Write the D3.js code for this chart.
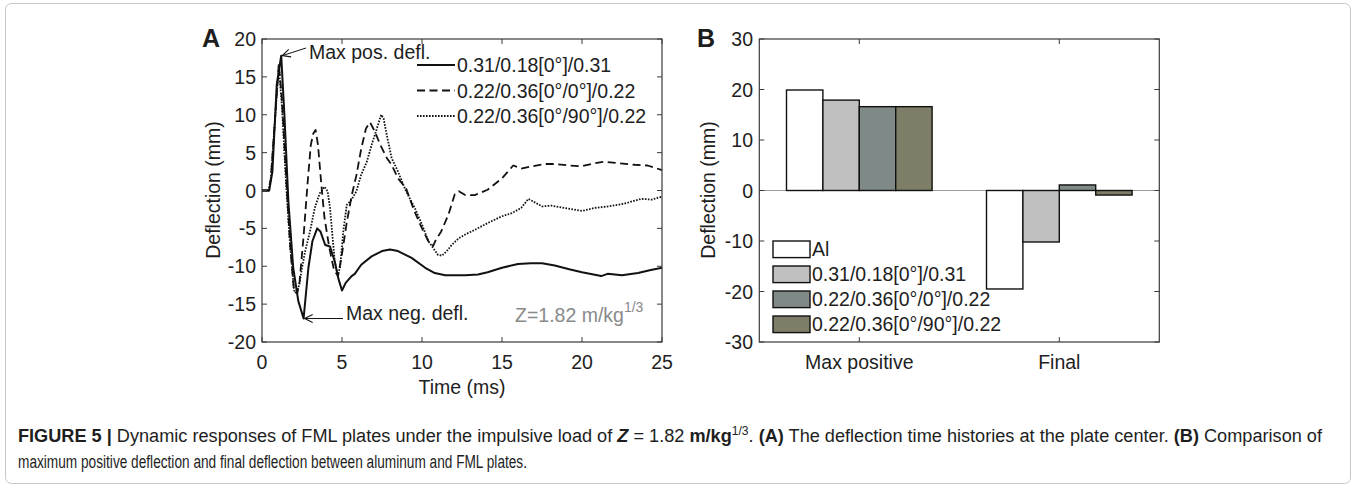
<!DOCTYPE html>
<meta charset="utf-8">
<script src="https://d3js.org/d3.v7.min.js"></script>
<body style="margin:0;background:#fff">
<svg width="1356" height="488"></svg>
<script>
  // ---- panel A: deflection time histories, [time ms, deflection mm]
  var solid = [[0,0],[0.45,0],[0.65,2.5],[0.92,13.9],[1.2,17.8],[1.4,10],[1.65,-1.5],[1.95,-10.2],[2.27,-14.6],[2.6,-16.9],
    [2.9,-10.2],[3.15,-6.7],[3.45,-5.0],[3.65,-5.4],[3.95,-7.2],[4.25,-7.4],[4.55,-9.4],[4.77,-11.6],[5.0,-13.2],[5.23,-12.2],
    [5.6,-11.3],[5.8,-11.0],[6.2,-9.8],[6.85,-8.7],[7.5,-8.0],[8.0,-7.8],[8.5,-8.0],[9.35,-8.9],[10.2,-10.2],[10.8,-10.9],
    [11.45,-11.2],[12.7,-11.2],[13.5,-11.1],[14.1,-10.8],[15.0,-10.2],[16.0,-9.7],[16.8,-9.6],[17.5,-9.6],[18.3,-9.9],
    [19.2,-10.4],[20.0,-10.8],[21.2,-11.3],[21.6,-11.0],[22.5,-11.2],[23.5,-10.9],[24.3,-10.5],[25,-10.2]];
  var dashed = [[0,0],[0.4,0],[0.55,1.5],[0.8,9],[1.05,16.7],[1.25,12],[1.5,2],[1.75,-7],[2.0,-13.3],[2.2,-13.6],[2.35,-12],
    [2.6,-6],[2.85,1],[3.05,6],[3.2,7.5],[3.35,8.0],[3.5,6],[3.7,1],[3.9,-3.5],[4.2,-7.5],[4.5,-10.5],[4.75,-11.3],[4.95,-9],
    [5.1,-7],[5.3,-4.2],[5.6,-0.7],[5.9,2],[6.2,5.5],[6.5,8.2],[6.75,9.0],[7.05,7.8],[7.4,6],[7.8,4.3],[8.1,3.4],[8.5,1.6],
    [9.0,0.3],[9.5,-2.6],[10.0,-5.0],[10.4,-6.7],[10.7,-7.3],[10.85,-6.6],[11.2,-5.4],[11.65,-3.2],[12.05,-0.5],[12.3,-0.1],
    [12.7,-0.6],[13.3,-0.6],[14.1,0.1],[15.0,1.6],[15.7,3.3],[16.2,2.9],[16.9,3.2],[17.7,3.5],[18.3,3.5],[19.2,3.3],[20.0,3.2],
    [20.8,3.6],[21.4,3.8],[22.3,3.6],[23.3,3.4],[24.1,3.3],[25,2.7]];
  var dotted = [[0,0],[0.4,0],[0.55,1.5],[0.8,9],[1.05,16.3],[1.25,11],[1.5,1],[1.75,-7],[2.0,-13.2],[2.2,-13.4],[2.35,-12.2],
    [2.5,-10.2],[2.7,-8],[3.0,-5.4],[3.3,-2.3],[3.6,-0.4],[3.9,0.5],[4.1,-0.1],[4.25,-2.3],[4.4,-5.9],[4.55,-9.4],[4.73,-11.1],
    [4.88,-10.2],[5.08,-5.4],[5.3,-1.9],[5.6,-1.2],[5.9,-0.1],[6.2,2.1],[6.55,3.8],[6.85,6.0],[7.15,8.0],[7.45,10.0],[7.6,9.5],
    [7.8,7.3],[8.1,4.3],[8.5,2.5],[9.0,-0.1],[9.55,-2.3],[10.0,-4.5],[10.4,-6.7],[10.7,-7.6],[11.0,-8.5],[11.25,-8.6],
    [11.55,-8.0],[11.85,-7.2],[12.3,-6.3],[12.7,-5.8],[13.3,-5.2],[14.1,-4.3],[15.0,-3.4],[15.6,-3.0],[16.2,-2.3],[16.65,-1.1],
    [16.95,-1.45],[17.5,-2.1],[18.1,-2.0],[18.9,-2.3],[20.0,-2.7],[20.8,-2.3],[21.65,-2.1],[22.7,-1.7],[23.7,-1.1],[24.35,-1.2],[25,-0.8]];
  var lineNames = ['0.31/0.18[0°]/0.31', '0.22/0.36[0°/0°]/0.22', '0.22/0.36[0°/90°]/0.22'];
  var ticksA_x = [0, 5, 10, 15, 20, 25];
  var ticksA_y = [-20, -15, -10, -5, 0, 5, 10, 15, 20];

  // ---- panel B: bar comparison
  var groups = ['Max positive', 'Final'];
  var barNames = ['Al', '0.31/0.18[0°]/0.31', '0.22/0.36[0°/0°]/0.22', '0.22/0.36[0°/90°]/0.22'];
  var maxPositive = [19.9, 17.9, 16.6, 16.6];
  var finalDefl = [-19.5, -10.2, 1.1, -0.9];
  var ticksB_y = [-30, -20, -10, 0, 10, 20, 30];

  var barColors = ['#ffffff', '#c0c0c0', '#7f8988', '#7e7d67'];
  var axisColor = '#3a3a3a';
  var fs = 19.5;

  var svg = d3.select('svg');

  // outer frame
  svg.append('rect').attr('x', 5.5).attr('y', 3.5).attr('width', 1345).attr('height', 480)
    .attr('rx', 6).attr('fill', 'none').attr('stroke', '#c8c8c8');

  function frame(g, x0, x1, y0, y1){
    g.append('rect').attr('x', x0).attr('y', y1).attr('width', x1 - x0).attr('height', y0 - y1)
      .attr('fill', 'none').attr('stroke', axisColor).attr('stroke-width', 1.2);
  }

  /* ----------- panel A ----------- */
  var xA = d3.scaleLinear().domain([0, 25]).range([262, 662]);
  var yA = d3.scaleLinear().domain([-20, 20]).range([342, 39]);
  var gA = svg.append('g');

  var line = d3.line().x(function(d){ return xA(d[0]); }).y(function(d){ return yA(d[1]); });
  var styles = [null, '8,4.5', '1.6,1.4'];

  [solid, dashed, dotted].forEach(function(s, i){
    gA.append('path').datum(s).attr('d', line).attr('fill', 'none').attr('stroke', '#111')
      .attr('stroke-width', i == 0 ? 2 : 1.8).attr('stroke-dasharray', styles[i]).attr('stroke-linejoin', 'round');
  });

  frame(gA, 262, 662, 342, 39);
  ticksA_x.forEach(function(t){
    gA.append('line').attr('x1', xA(t)).attr('x2', xA(t)).attr('y1', 342).attr('y2', 337).attr('stroke', axisColor);
    gA.append('line').attr('x1', xA(t)).attr('x2', xA(t)).attr('y1', 39).attr('y2', 44).attr('stroke', axisColor);
    gA.append('text').attr('x', xA(t)).attr('y', 369).attr('text-anchor', 'middle').attr('font-size', fs).text(t);
  });
  ticksA_y.forEach(function(t){
    gA.append('line').attr('x1', 262).attr('x2', 267).attr('y1', yA(t)).attr('y2', yA(t)).attr('stroke', axisColor);
    gA.append('line').attr('x1', 662).attr('x2', 657).attr('y1', yA(t)).attr('y2', yA(t)).attr('stroke', axisColor);
    gA.append('text').attr('x', 256).attr('y', yA(t) + 7).attr('text-anchor', 'end').attr('font-size', fs).text(t);
  });
  gA.append('text').attr('x', 462).attr('y', 394).attr('text-anchor', 'middle').attr('font-size', fs).text('Time (ms)');
  gA.append('text').attr('transform', 'translate(219.5,190) rotate(-90)').attr('text-anchor', 'middle')
    .attr('font-size', fs).text('Deflection (mm)');
  gA.append('text').attr('x', 202).attr('y', 47).attr('font-size', 25).attr('font-weight', 'bold').text('A');

  // legend A
  lineNames.forEach(function(n, i){
    var y = 65 + i * 25.5;
    gA.append('line').attr('x1', 417).attr('x2', 455).attr('y1', y).attr('y2', y).attr('stroke', '#111')
      .attr('stroke-width', i == 0 ? 2 : 1.8).attr('stroke-dasharray', styles[i]);
    gA.append('text').attr('x', 457).attr('y', y + 7).attr('font-size', fs).text(n);
  });

  // annotations
  var pk = d3.greatest(solid, function(d){ return d[1]; });
  var tr = d3.least(solid, function(d){ return d[1]; });
  function arrow(x1, y1, x2, y2){
    var a = Math.atan2(y2 - y1, x2 - x1), L = 9, w = 0.45;
    gA.append('line').attr('x1', x1).attr('y1', y1).attr('x2', x2).attr('y2', y2).attr('stroke', '#111').attr('stroke-width', 1);
    gA.append('path').attr('d', 'M' + (x2 - L * Math.cos(a - w)) + ',' + (y2 - L * Math.sin(a - w)) + 'L' + x2 + ',' + y2 +
      'L' + (x2 - L * Math.cos(a + w)) + ',' + (y2 - L * Math.sin(a + w)))
      .attr('fill', 'none').attr('stroke', '#111').attr('stroke-width', 1.1);
  }
  arrow(306, 48, xA(pk[0]) + 1, yA(pk[1]));
  gA.append('text').attr('x', 309).attr('y', 59).attr('font-size', fs).text('Max pos. defl.');
  arrow(343, yA(tr[1]), xA(tr[0]) + 1, yA(tr[1]));
  gA.append('text').attr('x', 346).attr('y', 320).attr('font-size', fs).text('Max neg. defl.');

  var zt = gA.append('text').attr('x', 515).attr('y', 322).attr('font-size', fs).style('fill', '#8a8a8a');
  zt.append('tspan').text('Z=1.82 m/kg');
  zt.append('tspan').attr('dy', -10).attr('font-size', 14).text('1/3');

  /* ----------- panel B ----------- */
  var xB = d3.scaleLinear().domain([0.5, 2.5]).range([759.3, 1159.3]);
  var yB = d3.scaleLinear().domain([-30, 30]).range([342, 39]);
  var gB = svg.append('g');
  var bw = 0.182;

  gB.append('line').attr('x1', 759.3).attr('x2', 1159.3).attr('y1', yB(0)).attr('y2', yB(0))
    .attr('stroke', '#9a9a9a').attr('stroke-width', 1);

  [maxPositive, finalDefl].forEach(function(vals, gi){
    vals.forEach(function(v, i){
      var xc = gi + 1 + (i - 1.5) * bw;
      gB.append('rect').attr('x', xB(xc - bw / 2)).attr('width', xB(xc + bw / 2) - xB(xc - bw / 2))
        .attr('y', yB(Math.max(0, v))).attr('height', Math.abs(yB(v) - yB(0)))
        .attr('fill', barColors[i]).attr('stroke', '#111').attr('stroke-width', 1.4);
    });
  });

  frame(gB, 759.3, 1159.3, 342, 39);
  groups.forEach(function(gname, i){
    var x = xB(i + 1);
    gB.append('line').attr('x1', x).attr('x2', x).attr('y1', 342).attr('y2', 337).attr('stroke', axisColor);
    gB.append('line').attr('x1', x).attr('x2', x).attr('y1', 39).attr('y2', 44).attr('stroke', axisColor);
    gB.append('text').attr('x', x).attr('y', 369).attr('text-anchor', 'middle').attr('font-size', fs).text(gname);
  });
  ticksB_y.forEach(function(t){
    gB.append('line').attr('x1', 759.3).attr('x2', 764.3).attr('y1', yB(t)).attr('y2', yB(t)).attr('stroke', axisColor);
    gB.append('line').attr('x1', 1159.3).attr('x2', 1154.3).attr('y1', yB(t)).attr('y2', yB(t)).attr('stroke', axisColor);
    gB.append('text').attr('x', 753).attr('y', yB(t) + 7).attr('text-anchor', 'end').attr('font-size', fs).text(t);
  });
  gB.append('text').attr('transform', 'translate(715,190) rotate(-90)').attr('text-anchor', 'middle')
    .attr('font-size', fs).text('Deflection (mm)');
  gB.append('text').attr('x', 697).attr('y', 47).attr('font-size', 25).attr('font-weight', 'bold').text('B');

  // legend B
  barNames.forEach(function(n, i){
    var y = 249.3 + i * 25;
    gB.append('rect').attr('x', 773).attr('y', y - 8.3).attr('width', 37).attr('height', 16.6)
      .attr('fill', barColors[i]).attr('stroke', '#111').attr('stroke-width', 1.4);
    gB.append('text').attr('x', 812).attr('y', y + 7).attr('font-size', fs).text(n);
  });

  /* ----------- caption ----------- */
  var cap = svg.append('g');
  var l1 = cap.append('text').attr('x', 18).attr('y', 442).attr('font-size', 18)
    .attr('textLength', 1304).attr('lengthAdjust', 'spacingAndGlyphs');
  l1.append('tspan').attr('font-weight', 'bold').text('FIGURE 5 | ');
  l1.append('tspan').text('Dynamic responses of FML plates under the impulsive load of ');
  l1.append('tspan').attr('font-weight', 'bold').attr('font-style', 'italic').text('Z');
  l1.append('tspan').text(' = 1.82 ');
  l1.append('tspan').attr('font-weight', 'bold').text('m/kg');
  l1.append('tspan').attr('dy', -7).attr('font-size', 12).text('1/3');
  l1.append('tspan').attr('dy', 7).text('. ');
  l1.append('tspan').attr('font-weight', 'bold').text('(A)');
  l1.append('tspan').text(' The deflection time histories at the plate center. ');
  l1.append('tspan').attr('font-weight', 'bold').text('(B)');
  l1.append('tspan').text(' Comparison of');
  cap.append('text').attr('x', 18).attr('y', 468).attr('font-size', 18)
    .attr('textLength', 509).attr('lengthAdjust', 'spacingAndGlyphs')
    .text('maximum positive deflection and final deflection between aluminum and FML plates.');

  svg.selectAll('text').style('font-family', "'Liberation Sans', Arial")
    .filter(function(){ return !this.style.fill; }).style('fill', '#1e1e1e');
</script>
</body>
